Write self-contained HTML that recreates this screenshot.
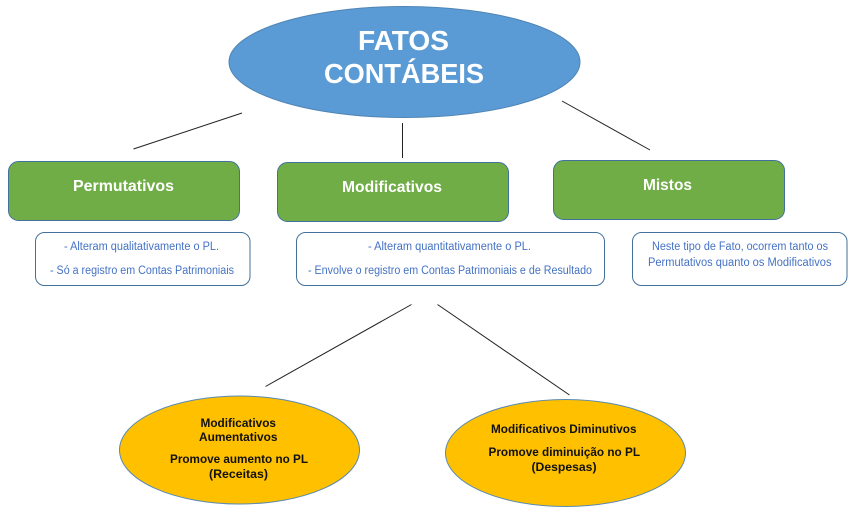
<!DOCTYPE html>
<html>
<head>
<meta charset="utf-8">
<style>
html,body{margin:0;padding:0;background:#fff;}
svg{display:block;filter:blur(0.3px);}
text{font-family:"Liberation Sans",sans-serif;}
.s{font-size:11.5px;fill:#4472c4;}
.b{font-size:12px;font-weight:bold;fill:#111;}
.g{font-size:16px;font-weight:bold;fill:#fff;}
.t{font-size:28px;font-weight:bold;fill:#fff;}
</style>
</head>
<body>
<svg width="853" height="519" viewBox="0 0 853 519" xmlns="http://www.w3.org/2000/svg">
<rect width="853" height="519" fill="#fff"/>
<g stroke="#222" stroke-width="1" fill="none">
<line x1="133.5" y1="149" x2="242" y2="113"/>
<line x1="402.5" y1="123" x2="402.5" y2="158"/>
<line x1="562" y1="101" x2="650" y2="150"/>
<line x1="411.5" y1="304.5" x2="265.5" y2="386.5"/>
<line x1="437.5" y1="304.5" x2="569.5" y2="395"/>
</g>
<ellipse cx="404.5" cy="62" rx="175.5" ry="55.5" fill="#5b9bd5" stroke="#4f85b5" stroke-width="1"/>
<text class="t" x="358" y="50" textLength="91" lengthAdjust="spacingAndGlyphs">FATOS</text>
<text class="t" x="324" y="83" textLength="160" lengthAdjust="spacingAndGlyphs">CONTÁBEIS</text>

<g fill="#70ad47" stroke="#41719c" stroke-width="1">
<rect x="8.5" y="161.5" width="231" height="59" rx="10" ry="10"/>
<rect x="277.5" y="162.5" width="231" height="59" rx="10" ry="10"/>
<rect x="553.5" y="160.5" width="231" height="59" rx="10" ry="10"/>
</g>
<text class="g" x="73" y="191" textLength="101" lengthAdjust="spacingAndGlyphs">Permutativos</text>
<text class="g" x="342" y="192" textLength="100" lengthAdjust="spacingAndGlyphs">Modificativos</text>
<text class="g" x="643" y="190" textLength="49" lengthAdjust="spacingAndGlyphs">Mistos</text>

<g fill="#fff" stroke="#41719c" stroke-width="1">
<rect x="35.5" y="232.5" width="214.5" height="53" rx="9" ry="9"/>
<rect x="296.5" y="232.5" width="308" height="53" rx="9" ry="9"/>
<rect x="632.5" y="232.5" width="214.5" height="53" rx="9" ry="9"/>
</g>
<text class="s" x="64" y="250" textLength="155" lengthAdjust="spacingAndGlyphs">- Alteram qualitativamente o PL.</text>
<text class="s" x="50" y="274" textLength="184" lengthAdjust="spacingAndGlyphs">- Só a registro em Contas Patrimoniais</text>
<text class="s" x="368" y="250" textLength="163" lengthAdjust="spacingAndGlyphs">- Alteram quantitativamente o PL.</text>
<text class="s" x="308" y="274" textLength="284" lengthAdjust="spacingAndGlyphs">- Envolve o registro em Contas Patrimoniais e de Resultado</text>
<text class="s" x="652" y="250" textLength="176" lengthAdjust="spacingAndGlyphs">Neste tipo de Fato, ocorrem tanto os</text>
<text class="s" x="648" y="266" textLength="183.5" lengthAdjust="spacingAndGlyphs">Permutativos quanto os Modificativos</text>

<ellipse cx="239.5" cy="450" rx="120" ry="54" fill="#ffc000" stroke="#5a8ab0" stroke-width="1"/>
<ellipse cx="565.5" cy="453" rx="120" ry="53.5" fill="#ffc000" stroke="#5a8ab0" stroke-width="1"/>
<text class="b" x="200.5" y="427" textLength="75.5" lengthAdjust="spacingAndGlyphs">Modificativos</text>
<text class="b" x="199" y="441" textLength="78.5" lengthAdjust="spacingAndGlyphs">Aumentativos</text>
<text class="b" x="170" y="463" textLength="138" lengthAdjust="spacingAndGlyphs">Promove aumento no PL</text>
<text class="b" x="209" y="478" textLength="59" lengthAdjust="spacingAndGlyphs">(Receitas)</text>
<text class="b" x="491" y="433" textLength="145.5" lengthAdjust="spacingAndGlyphs">Modificativos Diminutivos</text>
<text class="b" x="488.5" y="456" textLength="151.5" lengthAdjust="spacingAndGlyphs">Promove diminuição no PL</text>
<text class="b" x="531.5" y="471" textLength="65" lengthAdjust="spacingAndGlyphs">(Despesas)</text>
</svg>
</body>
</html>
